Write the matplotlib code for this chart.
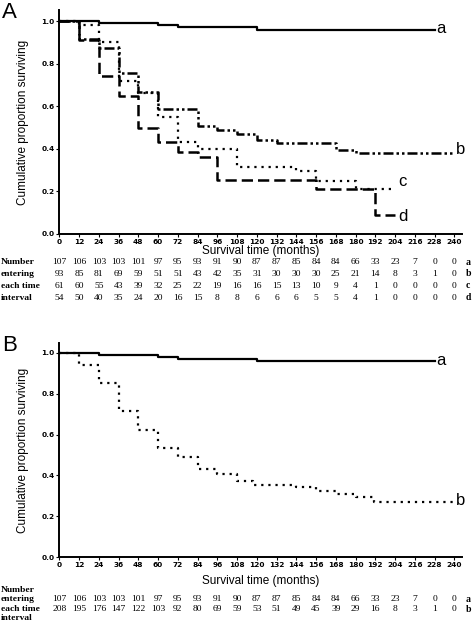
import matplotlib
matplotlib.use('Agg')
import matplotlib.pyplot as plt
from matplotlib.transforms import blended_transform_factory

# survival steps (time in months, proportion surviving)
a_t = [0, 24, 60, 72, 120, 228]
a_s = [1.0, 0.99, 0.98, 0.97, 0.96, 0.96]

b_t = [0, 12, 24, 36, 48, 60, 84, 96, 108, 120, 132, 168, 180, 240]
b_s = [1.0, 0.914, 0.872, 0.754, 0.668, 0.587, 0.506, 0.49, 0.468, 0.44, 0.426, 0.394, 0.38, 0.38]

c_t = [0, 12, 24, 36, 48, 60, 72, 84, 108, 144, 156, 180, 204]
c_s = [1.0, 0.98, 0.90, 0.72, 0.66, 0.55, 0.43, 0.40, 0.316, 0.296, 0.25, 0.21, 0.21]

d_t = [0, 12, 24, 36, 48, 60, 72, 84, 96, 156, 192, 204]
d_s = [1.0, 0.91, 0.74, 0.65, 0.50, 0.43, 0.384, 0.36, 0.252, 0.21, 0.09, 0.09]

bB_t = [0, 12, 24, 36, 48, 60, 72, 84, 96, 108, 118, 144, 156, 168, 180, 191, 240]
bB_s = [1.0, 0.94, 0.853, 0.717, 0.624, 0.535, 0.489, 0.433, 0.407, 0.371, 0.355, 0.343,
        0.325, 0.309, 0.293, 0.268, 0.268]

ticks = list(range(0, 241, 12))

# numbers at risk
nA_a = [107, 106, 103, 103, 101, 97, 95, 93, 91, 90, 87, 87, 85, 84, 84, 66, 33, 23, 7, 0, 0]
nA_b = [93, 85, 81, 69, 59, 51, 51, 43, 42, 35, 31, 30, 30, 30, 25, 21, 14, 8, 3, 1, 0]
nA_c = [61, 60, 55, 43, 39, 32, 25, 22, 19, 16, 16, 15, 13, 10, 9, 4, 1, 0, 0, 0, 0]
nA_d = [54, 50, 40, 35, 24, 20, 16, 15, 8, 8, 6, 6, 6, 5, 5, 4, 1, 0, 0, 0, 0]
nB_a = [107, 106, 103, 103, 101, 97, 95, 93, 91, 90, 87, 87, 85, 84, 84, 66, 33, 23, 7, 0, 0]
nB_b = [208, 195, 176, 147, 122, 103, 92, 80, 69, 59, 53, 51, 49, 45, 39, 29, 16, 8, 3, 1, 0]

row_labels = ['Number', 'entering', 'each time', 'interval']

W, H = 475, 630
fig = plt.figure(figsize=(4.75, 6.3), dpi=100)

dashdotdot = (0, (4, 1.2, 1, 1.2, 1, 1.2))
ls_c = (0, (1, 2.2))
ls_d = (0, (4.5, 2))


def make_axes(top_px, bottom_px, ytop, xpad):
    ax = fig.add_axes([59.3 / W, 1 - bottom_px / H, (462 - 59.3) / W, (bottom_px - top_px) / H])
    ax.set_xlim(0, 244.7)
    ax.set_ylim(0, ytop)
    ax.spines['top'].set_visible(False)
    ax.spines['right'].set_visible(False)
    ax.spines['left'].set_linewidth(1.4)
    ax.spines['bottom'].set_linewidth(1.4)
    ax.set_xticks(ticks)
    ax.set_xticklabels([str(t) for t in ticks], fontsize=5.3, fontweight='bold')
    ax.set_yticks([0, 0.2, 0.4, 0.6, 0.8, 1.0])
    ax.set_yticklabels(['0.0', '0.2', '0.4', '0.6', '0.8', '1.0'], fontsize=5.3, fontweight='bold')
    ax.tick_params(axis='both', length=2.5, width=0.8, pad=1)
    ax.set_ylabel('Cumulative proportion surviving', fontsize=8.5, family='Liberation Sans', labelpad=9)
    ax.set_xlabel('Survival time (months)', fontsize=8.5, family='Liberation Sans', labelpad=xpad)
    return ax


def table(ax, rows, ys, letters, label_ys):
    tr = blended_transform_factory(ax.transData, fig.transFigure)
    for vals, y, let in zip(rows, ys, letters):
        for t, v in zip(ticks, vals):
            ax.text(t, 1 - y / H, str(v), transform=tr, ha='center', va='center',
                    fontsize=6.8, family='Liberation Serif', clip_on=False)
        fig.text(466 / W, 1 - y / H, let, ha='left', va='center', fontsize=7,
                 family='Liberation Serif', fontweight='bold')
    for lab, y in zip(row_labels, label_ys):
        fig.text(1 / W, 1 - y / H, lab, ha='left', va='center', fontsize=6.8,
                 family='Liberation Serif', fontweight='bold')


# panel A
axA = make_axes(10, 234, 1.052, 0)
axA.step(a_t, a_s, where='post', color='black', lw=1.6)
axA.step(b_t, b_s, where='post', color='black', lw=1.8, linestyle=dashdotdot)
axA.step(c_t, c_s, where='post', color='black', lw=1.6, linestyle=ls_c)
axA.step(d_t, d_s, where='post', color='black', lw=1.8, linestyle=ls_d)
axA.text(229, a_s[-1] + 0.005, 'a', fontsize=12, family='Liberation Sans', va='center', ha='left')
axA.text(241, b_s[-1] + 0.015, 'b', fontsize=12, family='Liberation Sans', va='center', ha='left')
axA.text(206, c_s[-1] + 0.035, 'c', fontsize=12, family='Liberation Sans', va='center', ha='left')
axA.text(206, d_s[-1] - 0.01, 'd', fontsize=12, family='Liberation Sans', va='center', ha='left')
fig.text(2 / W, 1 - 13 / H, 'A', fontsize=16, family='Liberation Sans', va='center', ha='left')
table(axA, [nA_a, nA_b, nA_c, nA_d], [262, 274, 286, 298], ['a', 'b', 'c', 'd'],
      [262, 274, 286, 298])

# panel B
axB = make_axes(343, 557, 1.049, 5)
axB.step(a_t, a_s, where='post', color='black', lw=1.6)
axB.step(bB_t, bB_s, where='post', color='black', lw=1.6, linestyle=ls_c)
axB.text(229, a_s[-1] + 0.005, 'a', fontsize=12, family='Liberation Sans', va='center', ha='left')
axB.text(241, bB_s[-1] + 0.01, 'b', fontsize=12, family='Liberation Sans', va='center', ha='left')
fig.text(2 / W, 1 - 345 / H, 'B', fontsize=16, family='Liberation Sans', va='center', ha='left')
table(axB, [nB_a, nB_b], [599, 609], ['a', 'b'], [590, 599, 609, 618])

fig.savefig('out.png', dpi=100)
